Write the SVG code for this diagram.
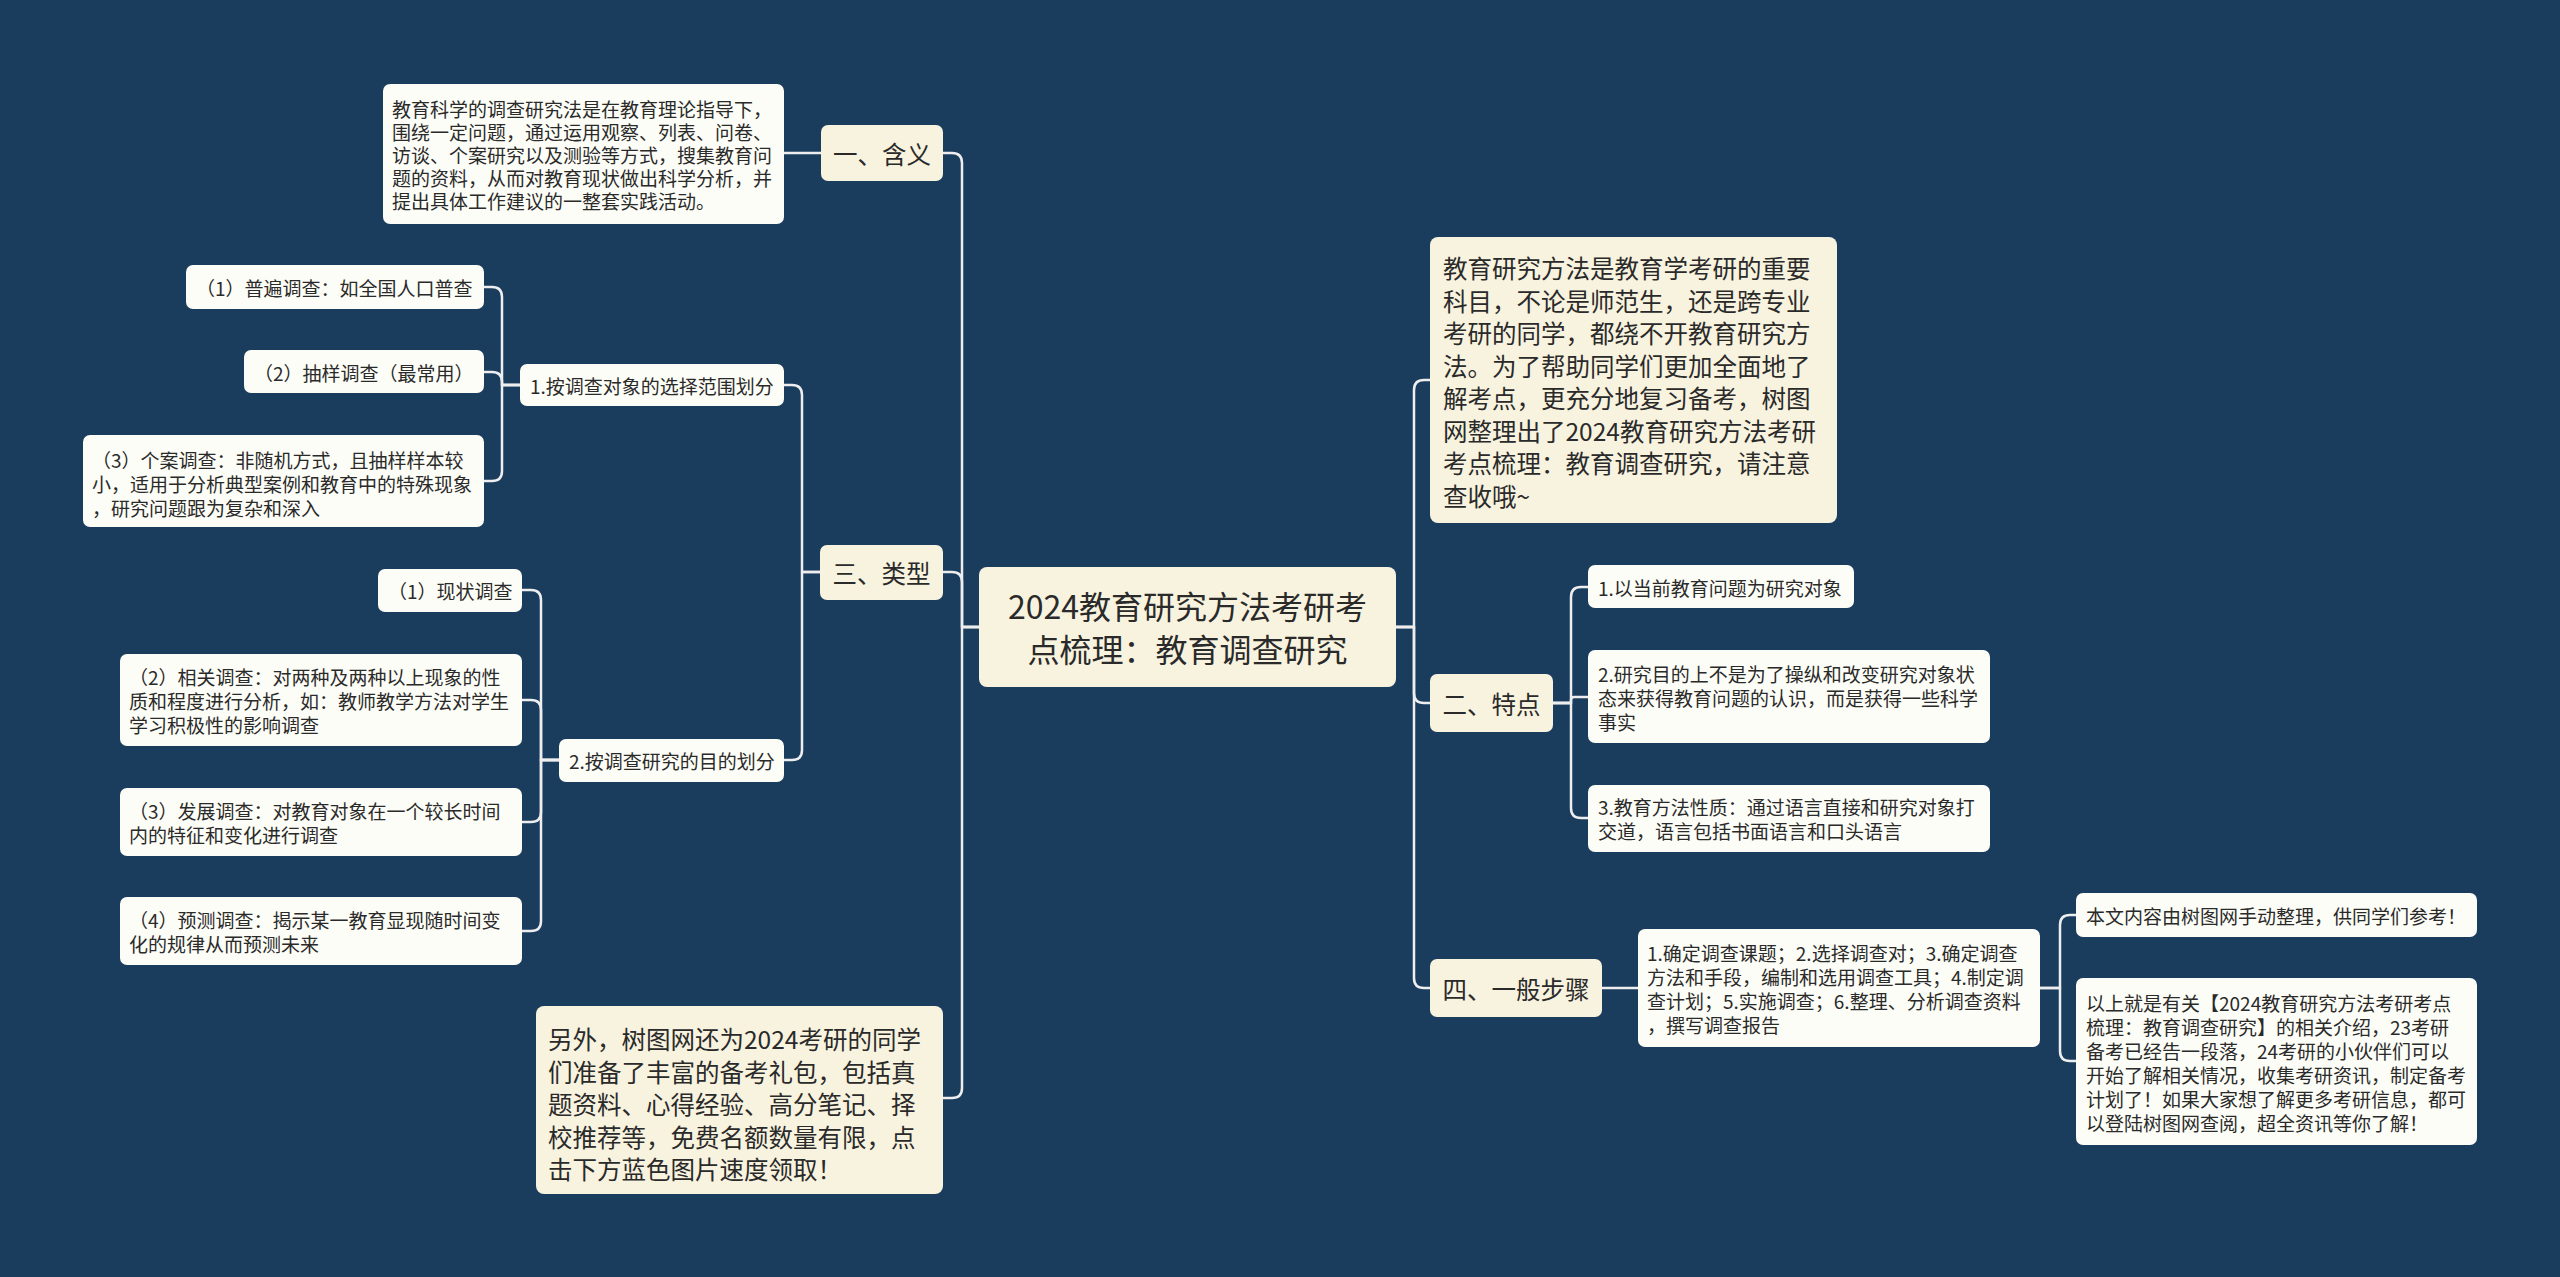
<svg xmlns="http://www.w3.org/2000/svg" width="2560" height="1277" viewBox="0 0 2560 1277">
<style>
.n1{fill:#f8f3df;}
.n2{fill:#fdfdf7;}
.t{font-family:"Noto Sans CJK SC","Noto Sans",sans-serif;fill:#2a2a2a;dominant-baseline:central;}
.tc{font-size:32px;text-anchor:middle;}
.t1{font-size:24.5px;}
.t2{font-size:19px;}
.mid{text-anchor:middle;}
.conn path{fill:none;stroke:#eeeeee;stroke-width:2.5;stroke-linecap:round;stroke-linejoin:round;}
</style>
<rect x="0" y="0" width="2560" height="1277" fill="#1a3d5e"/>

<g class="conn" id="connectors">
<path d="M980,627 H962 V163 Q962,153 952,153 H943"/>
<path d="M980,627 H962 V582 Q962,572 952,572 H943"/>
<path d="M980,627 H962 V1088 Q962,1098 952,1098 H943"/>
<path d="M821,153 H784"/>
<path d="M820,572 H802 V395 Q802,385 792,385 H784"/>
<path d="M820,572 H802 V750 Q802,760 792,760 H784"/>
<path d="M520,385 H502 V297 Q502,287 492,287 H484"/>
<path d="M520,385 H502 V382 Q502,372 492,372 H484"/>
<path d="M520,385 H502 V471 Q502,481 492,481 H484"/>
<path d="M559,760 H541 V600 Q541,590 531,590 H522"/>
<path d="M559,760 H541 V710 Q541,700 531,700 H522"/>
<path d="M559,760 H541 V812 Q541,822 531,822 H522"/>
<path d="M559,760 H541 V921 Q541,931 531,931 H522"/>
<path d="M1396,627 H1414 V390 Q1414,380 1424,380 H1430"/>
<path d="M1396,627 H1414 V693 Q1414,703 1424,703 H1430"/>
<path d="M1396,627 H1414 V978 Q1414,988 1424,988 H1430"/>
<path d="M1553,703 H1571 V597 Q1571,587 1581,587 H1588"/>
<path d="M1553,703 H1571 V700 Q1571,697 1574,697 H1588"/>
<path d="M1553,703 H1571 V808 Q1571,818 1581,818 H1588"/>
<path d="M1602,988 H1638"/>
<path d="M2040,988 H2060 V925 Q2060,915 2070,915 H2076"/>
<path d="M2040,988 H2060 V1051 Q2060,1061 2070,1061 H2076"/>
</g>

<g id="central">
<rect class="n1" x="979" y="567" width="417" height="120" rx="8"/>
<text class="t tc"><tspan x="1187.5" y="605">2024教育研究方法考研考</tspan><tspan x="1187.5" y="648">点梳理：教育调查研究</tspan></text>
</g>

<g id="n-hanyi">
<rect class="n1" x="821" y="125" width="122" height="56" rx="7"/>
<text class="t t1 mid" x="882" y="153">一、含义</text>
</g>
<g id="n-hanyi-desc">
<rect class="n2" x="383" y="84" width="401" height="140" rx="7"/>
<text class="t t2"><tspan x="392" y="108">教育科学的调查研究法是在教育理论指导下，</tspan><tspan x="392" y="131">围绕一定问题，通过运用观察、列表、问卷、</tspan><tspan x="392" y="154">访谈、个案研究以及测验等方式，搜集教育问</tspan><tspan x="392" y="177">题的资料，从而对教育现状做出科学分析，并</tspan><tspan x="392" y="200">提出具体工作建议的一整套实践活动。</tspan></text>
</g>

<g id="n-leixing">
<rect class="n1" x="820" y="545" width="123" height="55" rx="7"/>
<text class="t t1 mid" x="881.5" y="572">三、类型</text>
</g>
<g id="n-fanwei">
<rect class="n2" x="520" y="364" width="264" height="42" rx="7"/>
<text class="t t2" x="530" y="385">1.按调查对象的选择范围划分</text>
</g>
<g id="n-pubian">
<rect class="n2" x="186" y="265" width="298" height="44" rx="7"/>
<text class="t t2" x="196" y="287">（1）普遍调查：如全国人口普查</text>
</g>
<g id="n-chouyang">
<rect class="n2" x="244" y="350" width="240" height="43" rx="7"/>
<text class="t t2" x="254" y="372">（2）抽样调查（最常用）</text>
</g>
<g id="n-gean">
<rect class="n2" x="83" y="435" width="401" height="92" rx="7"/>
<text class="t t2"><tspan x="92" y="459">（3）个案调查：非随机方式，且抽样样本较</tspan><tspan x="92" y="483">小，适用于分析典型案例和教育中的特殊现象</tspan><tspan x="92" y="507">，研究问题跟为复杂和深入</tspan></text>
</g>
<g id="n-mudi">
<rect class="n2" x="559" y="739" width="225" height="43" rx="7"/>
<text class="t t2" x="569" y="760">2.按调查研究的目的划分</text>
</g>
<g id="n-xianzhuang">
<rect class="n2" x="378" y="569" width="144" height="43" rx="7"/>
<text class="t t2" x="388" y="590">（1）现状调查</text>
</g>
<g id="n-xiangguan">
<rect class="n2" x="120" y="654" width="402" height="92" rx="7"/>
<text class="t t2"><tspan x="129" y="676">（2）相关调查：对两种及两种以上现象的性</tspan><tspan x="129" y="700">质和程度进行分析，如：教师教学方法对学生</tspan><tspan x="129" y="724">学习积极性的影响调查</tspan></text>
</g>
<g id="n-fazhan">
<rect class="n2" x="120" y="788" width="402" height="68" rx="7"/>
<text class="t t2"><tspan x="129" y="810">（3）发展调查：对教育对象在一个较长时间</tspan><tspan x="129" y="834">内的特征和变化进行调查</tspan></text>
</g>
<g id="n-yuce">
<rect class="n2" x="120" y="897" width="402" height="68" rx="7"/>
<text class="t t2"><tspan x="129" y="919">（4）预测调查：揭示某一教育显现随时间变</tspan><tspan x="129" y="943">化的规律从而预测未来</tspan></text>
</g>

<g id="n-lingwai">
<rect class="n1" x="536" y="1006" width="407" height="188" rx="8"/>
<text class="t t1"><tspan x="548" y="1038">另外，树图网还为2024考研的同学</tspan><tspan x="548" y="1070.5">们准备了丰富的备考礼包，包括真</tspan><tspan x="548" y="1103">题资料、心得经验、高分笔记、择</tspan><tspan x="548" y="1135.5">校推荐等，免费名额数量有限，点</tspan><tspan x="548" y="1168">击下方蓝色图片速度领取！</tspan></text>
</g>

<g id="n-intro">
<rect class="n1" x="1430" y="237" width="407" height="286" rx="8"/>
<text class="t t1"><tspan x="1443" y="267">教育研究方法是教育学考研的重要</tspan><tspan x="1443" y="299.5">科目，不论是师范生，还是跨专业</tspan><tspan x="1443" y="332">考研的同学，都绕不开教育研究方</tspan><tspan x="1443" y="364.5">法。为了帮助同学们更加全面地了</tspan><tspan x="1443" y="397">解考点，更充分地复习备考，树图</tspan><tspan x="1443" y="429.5">网整理出了2024教育研究方法考研</tspan><tspan x="1443" y="462">考点梳理：教育调查研究，请注意</tspan><tspan x="1443" y="494.5">查收哦~</tspan></text>
</g>

<g id="n-tedian">
<rect class="n1" x="1430" y="674" width="123" height="58" rx="7"/>
<text class="t t1 mid" x="1491.5" y="703">二、特点</text>
</g>
<g id="n-td1">
<rect class="n2" x="1588" y="565" width="266" height="43" rx="7"/>
<text class="t t2" x="1598" y="587">1.以当前教育问题为研究对象</text>
</g>
<g id="n-td2">
<rect class="n2" x="1588" y="650" width="402" height="93" rx="7"/>
<text class="t t2"><tspan x="1598" y="673">2.研究目的上不是为了操纵和改变研究对象状</tspan><tspan x="1598" y="697">态来获得教育问题的认识，而是获得一些科学</tspan><tspan x="1598" y="721">事实</tspan></text>
</g>
<g id="n-td3">
<rect class="n2" x="1588" y="785" width="402" height="67" rx="7"/>
<text class="t t2"><tspan x="1598" y="806">3.教育方法性质：通过语言直接和研究对象打</tspan><tspan x="1598" y="830">交道，语言包括书面语言和口头语言</tspan></text>
</g>

<g id="n-buzhou">
<rect class="n1" x="1430" y="959" width="172" height="58" rx="7"/>
<text class="t t1 mid" x="1516" y="988">四、一般步骤</text>
</g>
<g id="n-steps">
<rect class="n2" x="1638" y="929" width="402" height="118" rx="7"/>
<text class="t t2"><tspan x="1647" y="952">1.确定调查课题；2.选择调查对；3.确定调查</tspan><tspan x="1647" y="976">方法和手段，编制和选用调查工具；4.制定调</tspan><tspan x="1647" y="1000">查计划；5.实施调查；6.整理、分析调查资料</tspan><tspan x="1647" y="1024">，撰写调查报告</tspan></text>
</g>
<g id="n-benwen">
<rect class="n2" x="2076" y="893" width="401" height="44" rx="7"/>
<text class="t t2" x="2086" y="915">本文内容由树图网手动整理，供同学们参考！</text>
</g>
<g id="n-yishang">
<rect class="n2" x="2076" y="978" width="401" height="167" rx="7"/>
<text class="t t2"><tspan x="2086" y="1001.5">以上就是有关【2024教育研究方法考研考点</tspan><tspan x="2086" y="1025.5">梳理：教育调查研究】的相关介绍，23考研</tspan><tspan x="2086" y="1049.5">备考已经告一段落，24考研的小伙伴们可以</tspan><tspan x="2086" y="1073.5">开始了解相关情况，收集考研资讯，制定备考</tspan><tspan x="2086" y="1097.5">计划了！如果大家想了解更多考研信息，都可</tspan><tspan x="2086" y="1121.5">以登陆树图网查阅，超全资讯等你了解！</tspan></text>
</g>
</svg>
